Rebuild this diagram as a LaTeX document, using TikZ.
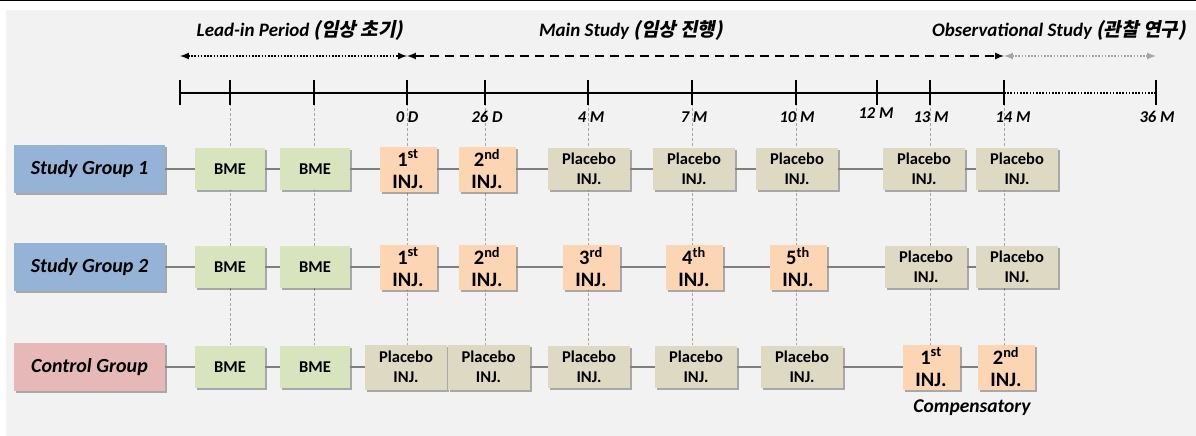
\documentclass[tikz,border=0pt]{standalone}
\usepackage{fontspec}
\setmainfont{Carlito}
\newfontfamily\kor[FakeSlant=0.2]{Noto Sans CJK KR}
\usepackage{xcolor}
\usetikzlibrary{arrows,positioning,shadows}
\definecolor{paper}{HTML}{F2F2F2}
\definecolor{grpblue}{HTML}{95B3D7}
\definecolor{grppink}{HTML}{E6B9B8}
\definecolor{bmegreen}{HTML}{D7E4BD}
\definecolor{injorange}{HTML}{FCD5B5}
\definecolor{plctan}{HTML}{DDD9C3}
\definecolor{linkgray}{HTML}{7F7F7F}
\definecolor{guidegray}{HTML}{A6A6A6}

\begin{document}
\begin{tikzpicture}[x=1pt,y=-1pt,every node/.style={outer sep=0pt,inner sep=0pt,align=center}]
\tikzstyle{shd}=[drop shadow={shadow xshift=2pt,shadow yshift=-2pt,opacity=.3,fill=black}]
\tikzstyle{box}=[shd,minimum height=42pt,font=\bfseries\fontsize{16.5}{20}\selectfont]
\tikzstyle{bme}=[box,fill=bmegreen,minimum width=70pt]
\tikzstyle{plc}=[box,fill=plctan,minimum width=82pt]
\tikzstyle{inj}=[box,fill=injorange,minimum width=57pt,minimum height=45pt,
font=\bfseries\fontsize{20.5}{22}\selectfont]
\tikzstyle{grp}=[shd,minimum width=151pt,minimum height=48pt,
font=\bfseries\itshape\fontsize{20}{22}\selectfont]
\tikzstyle{ttl}=[font=\bfseries\itshape\fontsize{19}{21}\selectfont]
\tikzstyle{lbl}=[font=\bfseries\itshape\fontsize{16.5}{18}\selectfont]
\tikzstyle{link}=[line width=1.4pt,linkgray]
\tikzstyle{guide}=[densely dashed,line width=.6pt,guidegray]
\tikzstyle{axis}=[line width=2.4pt]
\useasboundingbox (0,0) rectangle (1196,436);
\fill[paper] (6,10) rectangle (1196,436);
\fill[black] (0,0) rectangle (1196,1.5);
% timeline
\foreach \x [count=\i] in {180,230,314,407,485,588,692,796,877,930,1004,1156}
  \coordinate (t\i) at (\x,93);
\coordinate (bot) at (0,345);
\foreach \i in {2,...,8,10,11}
  \draw[guide] (t\i) -- (t\i |- bot);
\draw[axis] (t1) -- (t11);
\draw[axis,dash pattern=on 1.6pt off 1.6pt] (t11) -- (t12);
\foreach \i in {1,...,12}
  \draw[axis] (t\i) ++(0,-13) -- ++(0,25);
\node[lbl] (l4) at (407,117) {0 D};
\node[lbl] (l5) at (487,117) {26 D};
\node[lbl] (l6) at (591,117) {4 M};
\node[lbl] (l7) at (694,117) {7 M};
\node[lbl] (l8) at (797,117) {10 M};
\node[lbl] (l9) at (876,113) {12 M};
\node[lbl] (l10) at (931,117) {13 M};
\node[lbl] (l11) at (1013,117) {14 M};
\node[lbl] (l12) at (1157,117) {36 M};
% phases
\coordinate (p1) at (180,56);
\coordinate (p2) at (407,56);
\coordinate (p3) at (1004,56);
\coordinate (p4) at (1156,56);
\draw[latex-latex,line width=2pt,dash pattern=on 1.6pt off 1.6pt] (p1) -- (p2);
\draw[latex-latex,line width=2pt,dash pattern=on 9pt off 6pt] (p2) -- (p3);
\draw[latex-latex,line width=2pt,guidegray,dash pattern=on 1.6pt off 1.6pt] (p3) -- (p4);
\node[ttl] (h1) at (300,30) {Lead-in Period {\kor(임상 초기)}};
\node[ttl] (h2) at (631,30) {Main Study {\kor(임상 진행)}};
\node[ttl] (h3) at (1059,30) {Observational Study {\kor(관찰 연구)}};
% study group 1
\node[grp,fill=grpblue] (g1) at (89.5,169) {Study Group 1};
\node[bme] (a1) at (230,169) {BME};
\node[bme] (a2) at (315,169) {BME};
\node[inj] (a3) at (408,169) {1\textsuperscript{st}\\INJ.};
\node[inj] (a4) at (487,169) {2\textsuperscript{nd}\\INJ.};
\node[plc] (a5) at (589,169) {Placebo\\INJ.};
\node[plc] (a6) at (694,169) {Placebo\\INJ.};
\node[plc] (a7) at (797,169) {Placebo\\INJ.};
\node[plc] (a8) at (924,169) {Placebo\\INJ.};
\node[plc] (a9) at (1017,169) {Placebo\\INJ.};
\draw[link] (g1) -- (a1) -- (a2) -- (a3) -- (a4) -- (a5) -- (a6) -- (a7) -- (a8) -- (a9);
% study group 2
\node[grp,fill=grpblue] (g2) at (89.5,267) {Study Group 2};
\node[bme] (b1) at (230,267) {BME};
\node[bme] (b2) at (315,267) {BME};
\node[inj] (b3) at (408,267) {1\textsuperscript{st}\\INJ.};
\node[inj] (b4) at (487,267) {2\textsuperscript{nd}\\INJ.};
\node[inj] (b5) at (591,267) {3\textsuperscript{rd}\\INJ.};
\node[inj] (b6) at (694,267) {4\textsuperscript{th}\\INJ.};
\node[inj] (b7) at (798,267) {5\textsuperscript{th}\\INJ.};
\node[plc] (b8) at (926,267) {Placebo\\INJ.};
\node[plc] (b9) at (1017,267) {Placebo\\INJ.};
\draw[link] (g2) -- (b1) -- (b2) -- (b3) -- (b4) -- (b5) -- (b6) -- (b7) -- (b8) -- (b9);
% control group
\node[grp,fill=grppink] (g3) at (89.5,367) {Control Group};
\node[bme] (c1) at (230,367) {BME};
\node[bme] (c2) at (315,367) {BME};
\node[plc,minimum height=45pt] (c3) at (406,367) {Placebo\\INJ.};
\node[plc,minimum height=45pt] (c4) at (488.5,367) {Placebo\\INJ.};
\node[plc] (c5) at (589,367) {Placebo\\INJ.};
\node[plc] (c6) at (696,367) {Placebo\\INJ.};
\node[plc] (c7) at (802,367) {Placebo\\INJ.};
\node[inj] (c8) at (931,367) {1\textsuperscript{st}\\INJ.};
\node[inj] (c9) at (1006,367) {2\textsuperscript{nd}\\INJ.};
\draw[link] (g3) -- (c1) -- (c2) -- (c3) (c4) -- (c5) -- (c6) -- (c7) -- (c8) -- (c9);
\node[lbl,font=\bfseries\itshape\fontsize{19.5}{21}\selectfont] (cmp) at (972,408) {Compensatory};
\end{tikzpicture}
\end{document}
